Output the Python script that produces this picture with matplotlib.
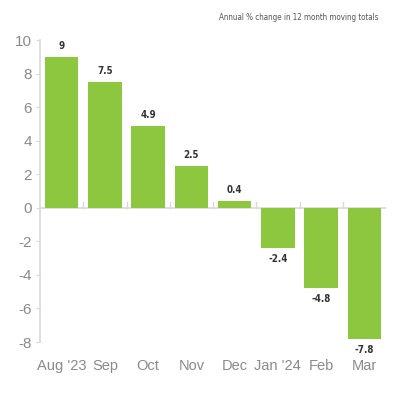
import matplotlib
matplotlib.use("Agg")
import matplotlib.pyplot as plt
import numpy as np

# data
months = ["Aug '23", "Sep", "Oct", "Nov", "Dec", "Jan '24", "Feb", "Mar"]
values = [9, 7.5, 4.9, 2.5, 0.4, -2.4, -4.8, -7.8]
labels = ["9", "7.5", "4.9", "2.5", "0.4", "-2.4", "-4.8", "-7.8"]
yticks = [-8, -6, -4, -2, 0, 2, 4, 6, 8, 10]

green = "#8dc63f"
grey_txt = "#8a8a8a"
line_col = "#d9d9d9"

fig = plt.figure(figsize=(4, 4), dpi=100, facecolor="white")
ax = fig.add_axes([0.1, 0.145, 0.865, 0.755])

x = np.arange(len(months))
ax.bar(x, values, width=0.78, color=green, zorder=2)

for xi, v, lab in zip(x, values, labels):
    if v >= 0:
        ax.text(xi, v + 0.35, lab, ha="center", va="bottom", fontsize=7,
                color="#333333", fontstretch="condensed", fontweight="semibold")
    else:
        ax.text(xi, v - 0.35, lab, ha="center", va="top", fontsize=7,
                color="#333333", fontstretch="condensed", fontweight="semibold")

ax.set_xlim(-0.5, len(months) - 0.5)
ax.set_ylim(-8, 10)
ax.set_yticks(yticks)
ax.set_yticklabels([str(t) for t in yticks])
ax.set_xticks(x)
ax.set_xticklabels(months)

# zero line with small boundary marks
ax.axhline(0, color=line_col, linewidth=1.2, zorder=1)
for b in x[:-1] + 0.5:
    ax.plot([b, b], [0, 0.35], color=line_col, linewidth=1, zorder=1)

for s in ["top", "right", "bottom"]:
    ax.spines[s].set_visible(False)
ax.spines["left"].set_color(line_col)
ax.spines["left"].set_linewidth(1.2)

ax.tick_params(axis="y", length=3, color=line_col, labelsize=11,
               labelcolor=grey_txt, pad=3)
ax.tick_params(axis="x", length=0, labelsize=10.5, labelcolor=grey_txt, pad=12)
for t in ax.get_xticklabels() + ax.get_yticklabels():
    t.set_family("Liberation Sans")

fig.text(0.945, 0.955, "Annual % change in 12 month moving totals",
         ha="right", va="center", fontsize=5.8, color="#555555",
         fontstretch="condensed")

fig.savefig("out.png", dpi=100)
